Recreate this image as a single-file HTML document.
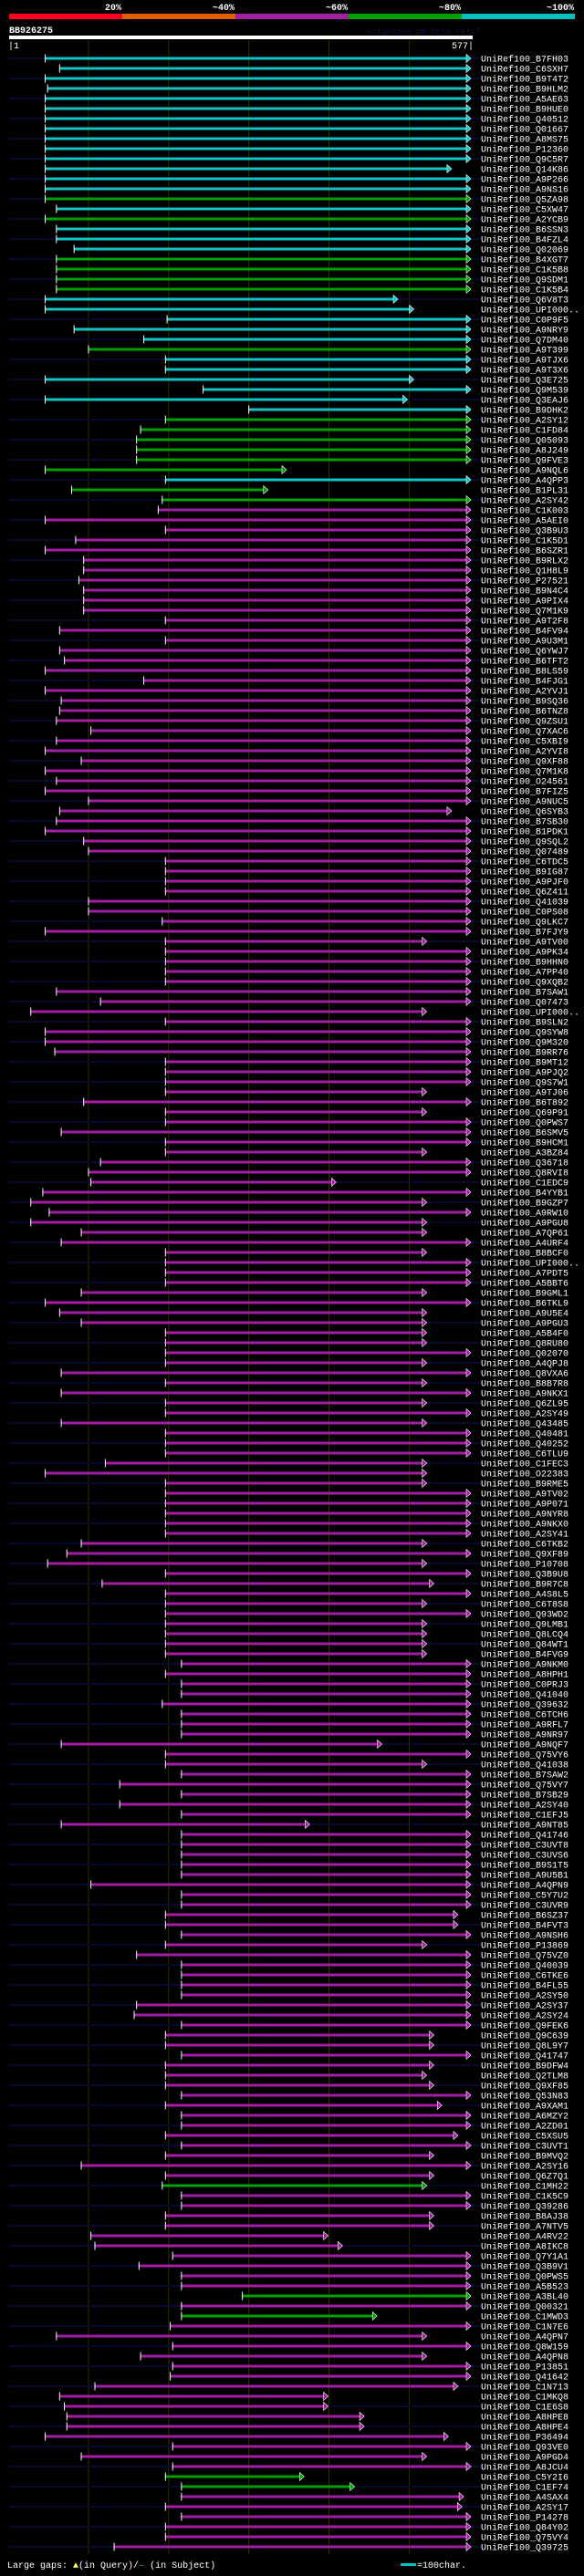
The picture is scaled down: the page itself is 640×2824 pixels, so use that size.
<!DOCTYPE html>
<html><head><meta charset="utf-8">
<style>
html,body{margin:0;padding:0;background:#000;}
body{width:640px;height:2819px;overflow:hidden;}
svg text{font-family:"Liberation Mono","DejaVu Sans Mono",monospace;}
</style></head>
<body>
<svg id="chart" width="640" height="2819" viewBox="0 0 640 2819" xmlns="http://www.w3.org/2000/svg">
  <rect x="0" y="0" width="640" height="2819" fill="#000"/>
  <g>
    <rect x="10" y="15" width="124" height="6" fill="#ff0020"/>
    <rect x="134" y="15" width="124" height="6" fill="#e06000"/>
    <rect x="258" y="15" width="124" height="6" fill="#a020a0"/>
    <rect x="382" y="15" width="124" height="6" fill="#00a000"/>
    <rect x="506" y="15" width="124" height="6" fill="#00c0c0"/>
    <text x="133" y="11" fill="#fff" font-size="10" font-weight="bold" text-anchor="end">20%</text>
    <text x="257" y="11" fill="#fff" font-size="10" font-weight="bold" text-anchor="end">~40%</text>
    <text x="381" y="11" fill="#fff" font-size="10" font-weight="bold" text-anchor="end">~60%</text>
    <text x="505" y="11" fill="#fff" font-size="10" font-weight="bold" text-anchor="end">~80%</text>
    <text x="629" y="11" fill="#fff" font-size="10" font-weight="bold" text-anchor="end">~100%</text>
  </g>
  <text x="10" y="36" fill="#fff" font-size="10" font-weight="bold">BB926275</text>
  <text x="402" y="37" fill="#101040" font-size="9">AlignView.pm Beta rel.7</text>
  <rect x="10" y="39" width="508" height="4" fill="#fff"/>
  <text x="9" y="53" fill="#fff" font-size="10">|1</text>
  <text x="519" y="53" fill="#fff" font-size="10" text-anchor="end">577|</text>
  <g id="grid"></g>
  <g id="rows"></g>
  <g>
    <text x="8" y="2815" fill="#fff" font-size="10">Large gaps: <tspan fill="#ffff60">▲</tspan>(in Query)/<tspan fill="#00c0c0">–</tspan> (in Subject)</text>
    <rect x="439" y="2810" width="17" height="3" fill="#00c0c0"/>
    <text x="457" y="2815" fill="#fff" font-size="10">=100char.</text>
  </g>
</svg>
<script>
// query length and grid ticks
const queryLength = 577;
const gridTicks = [100, 200, 300, 400, 500];
// hit names (top to bottom)
const hitNames = ["B7FH03","C6SXH7","B9T4T2","B9HLM2","A5AE63","B9HUE0","Q40512","Q01667","A8MS75","P12360","Q9C5R7","Q14K86","A9P266","A9NS16","Q5ZA98","C5XW47","A2YCB9","B6SSN3","B4FZL4","Q02069","B4XGT7","C1K5B8","Q9SDM1","C1K5B4","Q6V8T3","UPI000..","C0P9F5","A9NRY9","Q7DM40","A9T399","A9TJX6","A9T3X6","Q3E725","Q9M539","Q3EAJ6","B9DHK2","A2SY12","C1FD84","Q05093","A8J249","Q9FVE3","A9NQL6","A4QPP3","B1PL31","A2SY42","C1K003","A5AEI0","Q3B9U3","C1K5D1","B6SZR1","B9RLX2","Q1H8L9","P27521","B9N4C4","A9PIX4","Q7M1K9","A9T2F8","B4FV94","A9U3M1","Q6YWJ7","B6TFT2","B8LS59","B4FJG1","A2YVJ1","B9SQ36","B6TNZ8","Q9ZSU1","Q7XAC6","C5XBI9","A2YVI8","Q9XF88","Q7M1K8","O24561","B7FIZ5","A9NUC5","Q6SYB3","B7SB30","B1PDK1","Q9SQL2","Q07489","C6TDC5","B9IG87","A9PJF0","Q6Z411","Q41039","C0PS08","Q9LKC7","B7FJY9","A9TV00","A9PK34","B9HHN0","A7PP40","Q9XQB2","B7SAW1","Q07473","UPI000..","B9SLN2","Q9SYW8","Q9M320","B9RR76","B9MT12","A9PJQ2","Q9S7W1","A9TJ06","B6T892","Q69P91","Q0PWS7","B6SMV5","B9HCM1","A3BZ84","Q36718","Q8RVI8","C1EDC9","B4YYB1","B9GZP7","A9RW10","A9PGU8","A7QP61","A4URF4","B8BCF0","UPI000..","A7PDT5","A5BBT6","B9GML1","B6TKL9","A9U5E4","A9PGU3","A5B4F0","Q8RU80","Q02070","A4QPJ8","Q8VXA6","B8B7R8","A9NKX1","Q6ZL95","A2SY49","Q43485","Q40481","Q40252","C6TLU9","C1FEC3","O22383","B9RME5","A9TV02","A9P071","A9NYR8","A9NKX0","A2SY41","C6TKB2","Q9XF89","P10708","Q3B9U8","B9R7C8","A4S8L5","C6T8S8","Q93WD2","Q9LMB1","Q8LCQ4","Q84WT1","B4FVG9","A9NKM0","A8HPH1","C0PRJ3","Q41040","Q39632","C6TCH6","A9RFL7","A9NR97","A9NQF7","Q75VY6","Q41038","B7SAW2","Q75VY7","B7SB29","A2SY40","C1EFJ5","A9NT85","Q41746","C3UVT8","C3UVS6","B9S1T5","A9U5B1","A4QPN9","C5Y7U2","C3UVR9","B6SZ37","B4FVT3","A9NSH6","P13869","Q75VZ0","Q40039","C6TKE6","B4FL55","A2SY50","A2SY37","A2SY24","Q9FEK6","Q9C639","Q8L9Y7","Q41747","B9DFW4","Q2TLM8","Q9XF85","Q53N83","A9XAM1","A6MZY2","A2ZD01","C5XSU5","C3UVT1","B9MVQ2","A2SY16","Q6Z7Q1","C1MH22","C1K5C9","Q39286","B8AJ38","A7NTV5","A4RV22","A8IKC8","Q7Y1A1","Q3B9V1","Q0PWS5","A5B523","A3BL40","Q00321","C1MWD3","C1N7E6","A4QPN7","Q8W159","A4QPN8","P13851","Q41642","C1N713","C1MKQ8","C1E6S8","A8HPE8","A8HPE4","P36494","Q93VE0","A9PGD4","A8JCU4","C5Y2I6","C1EF74","A4SAX4","A2SY17","P14278","Q84Y02","Q75VY4","Q39725"];
// alignment start positions (query residues)
const hitStarts = [46,64,46,49,46,46,46,46,46,46,46,46,46,46,46,60,46,60,60,82,60,60,60,60,46,46,198,82,169,100,196,196,46,243,46,300,196,165,160,160,160,46,196,79,192,187,46,196,84,46,94,94,88,94,94,94,196,64,196,64,70,46,169,46,66,64,60,103,60,46,91,46,60,46,100,64,60,46,94,100,196,196,196,196,100,100,192,46,196,196,196,196,196,60,115,28,196,46,46,58,196,196,196,196,94,196,196,66,196,196,115,100,103,43,28,51,28,91,66,196,196,196,196,91,46,64,91,196,196,196,196,66,196,66,196,196,66,196,196,196,121,46,196,196,196,196,196,196,91,73,49,196,117,196,196,196,196,196,196,196,216,196,216,216,192,216,216,216,66,196,196,216,139,216,139,216,66,216,216,216,216,216,103,216,216,196,196,216,196,160,216,216,216,216,160,157,216,196,196,216,196,196,196,216,196,216,216,196,216,196,91,196,192,216,216,196,196,103,108,205,163,216,216,292,216,216,202,60,205,165,205,202,108,64,70,73,73,46,205,91,205,196,216,216,196,216,196,196,132];
// alignment end positions (query residues)
const hitEnds = [577,577,577,577,577,577,577,577,577,577,577,553,577,577,577,577,577,577,577,577,577,577,577,577,486,506,577,577,577,577,577,577,506,577,498,577,577,577,577,577,577,347,577,324,577,577,577,577,577,577,577,577,577,577,577,577,577,577,577,577,577,577,577,577,577,577,577,577,577,577,577,577,577,577,577,553,577,577,577,577,577,577,577,577,577,577,577,577,522,577,577,577,577,577,577,522,577,577,577,577,577,577,577,522,577,522,577,577,577,522,577,577,409,577,522,577,522,522,577,522,577,577,577,522,577,522,522,522,522,577,522,577,522,577,522,577,522,577,577,577,522,522,522,577,577,577,577,577,522,577,522,577,531,577,522,577,522,522,522,522,577,577,577,577,577,577,577,577,466,577,522,577,577,577,577,577,376,577,577,577,577,577,577,577,577,561,561,577,522,577,577,577,577,577,577,577,577,531,531,577,531,522,531,577,541,577,577,561,577,531,577,531,522,577,577,531,531,399,417,577,577,577,577,577,577,460,577,522,577,522,577,577,561,399,399,444,444,549,577,522,577,369,432,568,566,577,577,577,577];
// identity class per hit (groups of 10 rows): c = ~100%, g = ~80%, m = ~60%
const hitClassGroups = ["cccccccccc","ccccgcgccc","ggggcccccg","ccccccgggg","ggcggmmmmm",
  "mmmmmmmmmm","mmmmmmmmmm","mmmmmmmmmm","mmmmmmmmmm","mmmmmmmmmm","mmmmmmmmmm","mmmmmmmmmm","mmmmmmmmmm",
  "mmmmmmmmmm","mmmmmmmmmm","mmmmmmmmmm","mmmmmmmmmm","mmmmmmmmmm","mmmmmmmmmm","mmmmmmmmmm","mmmmmmmmmm",
  "mmgmmmmmmm","mmmgmgmmmm","mmmmmmmmmm","mggmmmmmm"];
const hitClass = hitClassGroups.join("");

const NS = "http://www.w3.org/2000/svg";
const X0 = 10, X1 = 516, ROW0 = 64, ROWH = 11;
function xScale(p){ return X0 + (p - 1) * (X1 - X0) / (queryLength - 1); }
function yScale(i){ return ROW0 + i * ROWH; }
const colors = {c:"#10c4c4", g:"#00a000", m:"#a41ea4"};
function mk(tag, attrs, parent){
  const e = document.createElementNS(NS, tag);
  for (const k in attrs) e.setAttribute(k, attrs[k]);
  parent.appendChild(e);
  return e;
}
const grid = document.getElementById('grid');
gridTicks.forEach(t => {
  const l = mk('line', {x1:xScale(t), x2:xScale(t), y1:44, y2:2800, stroke:'#2e2e00', 'stroke-width':1}, grid);
  
  
});
const rows = document.getElementById('rows');
hitNames.forEach((name, i) => {
  const y = yScale(i);
  const g = mk('g', {}, rows);
  
  
  if (i % 2 === 0) {
    const s = mk('rect', {x:10, y:y-1, width:517, height:2, fill:'#060a30'}, g);
    
    
  }
  const col = colors[hitClass[i]] || colors.m;
  const xs = xScale(hitStarts[i]), xe = xScale(hitEnds[i]);
  const bar = mk('rect', {x:xs, y:y-1.5, width:Math.max(0, xe - 5 - xs), height:3, fill:col}, g);
  
  
  const arr = mk('polygon', {points:`${xe-5},${y-4.5} ${xe},${y} ${xe-5},${y+4.5}`, fill:col, stroke:'#fff', 'stroke-width':0.6}, g);
  
  
  const tick = mk('rect', {x:xs-0.5, y:y-4.5, width:1, height:9, fill:'#fff'}, g);
  
  
  const t = mk('text', {x:527, y:y+3.5, fill:'#fff', 'font-size':10}, g);
  t.textContent = 'UniRef100_' + name;
  
  
});
</script>
</body></html>
